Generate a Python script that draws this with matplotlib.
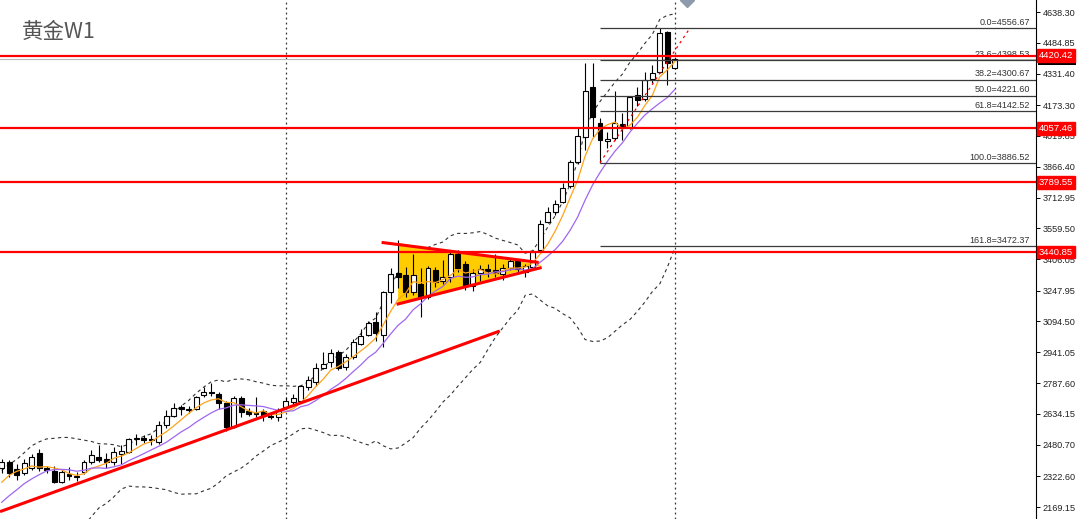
import matplotlib.pyplot as plt
import matplotlib.transforms as mtransforms
import numpy as np
import pandas as pd
from matplotlib.patches import Rectangle, Polygon

title = '黄金W1'

# weekly candles (left -> right)
opens = [2364, 2394, 2360, 2339, 2364, 2440, 2364, 2349, 2294, 2334,
         2324, 2344, 2394, 2418, 2409, 2394, 2433, 2443, 2508, 2513,
         2508, 2495, 2578, 2623, 2668, 2653, 2658, 2728, 2743, 2733,
         2688, 2568, 2713, 2648, 2638, 2648, 2623, 2618, 2668, 2693,
         2698, 2768, 2793, 2863, 2894, 2944, 2868, 2918, 2983, 3028,
         3093, 3028, 3243, 3338, 3328, 3243, 3283, 3218, 3353, 3298,
         3318, 3433, 3383, 3273, 3338, 3358, 3353, 3333, 3363, 3398,
         3343, 3368, 3450, 3593, 3643, 3693, 3768, 3888, 4015, 4264,
         4084, 3995, 4010, 4080, 4065, 4224, 4204, 4304, 4339, 4538,
         4360]
highs = [2409, 2404, 2384, 2409, 2433, 2456, 2374, 2374, 2359, 2370,
         2344, 2404, 2453, 2478, 2438, 2468, 2478, 2515, 2531, 2528,
         2526, 2600, 2653, 2688, 2678, 2673, 2723, 2768, 2788, 2743,
         2698, 2723, 2723, 2663, 2718, 2658, 2638, 2663, 2718, 2733,
         2778, 2823, 2888, 2944, 2958, 2954, 2934, 3008, 3058, 3098,
         3143, 3248, 3363, 3500, 3368, 3430, 3363, 3373, 3368, 3403,
         3443, 3453, 3398, 3358, 3378, 3383, 3433, 3383, 3413, 3403,
         3383, 3453, 3603, 3668, 3703, 3783, 3898, 4058, 4384, 4384,
         4109, 4040, 4244, 4134, 4220, 4264, 4339, 4374, 4556.67, 4543,
         4410]
lows = [2339, 2320, 2304, 2329, 2354, 2350, 2339, 2289, 2289, 2304,
        2299, 2334, 2384, 2394, 2364, 2379, 2384, 2438, 2478, 2490,
        2478, 2485, 2563, 2618, 2628, 2638, 2653, 2718, 2723, 2658,
        2548, 2563, 2618, 2623, 2618, 2598, 2608, 2598, 2658, 2683,
        2693, 2753, 2773, 2858, 2868, 2853, 2853, 2908, 2978, 3023,
        2998, 2968, 3188, 3260, 3218, 3228, 3118, 3208, 3268, 3283,
        3293, 3343, 3253, 3248, 3298, 3318, 3318, 3303, 3353, 3333,
        3318, 3358, 3440, 3588, 3628, 3688, 3760, 3880, 3950, 4015,
        3886.52, 3960, 4000, 4000, 4055, 4170, 4195, 4284, 4335, 4274,
        4352]
closes = [2394, 2339, 2329, 2389, 2418, 2364, 2354, 2294, 2344, 2324,
          2319, 2394, 2428, 2404, 2394, 2443, 2448, 2508, 2515, 2503,
          2501, 2578, 2623, 2663, 2658, 2658, 2718, 2743, 2738, 2688,
          2568, 2713, 2643, 2633, 2633, 2623, 2618, 2648, 2698, 2713,
          2773, 2803, 2863, 2883, 2939, 2863, 2918, 2993, 3023, 3088,
          3038, 3243, 3333, 3318, 3243, 3328, 3218, 3363, 3293, 3318,
          3433, 3363, 3273, 3338, 3358, 3348, 3338, 3363, 3398, 3358,
          3373, 3443, 3583, 3643, 3683, 3760, 3888, 4018, 4244, 4114,
          4000, 4005, 4084, 4065, 4214, 4199, 4299, 4334, 4533, 4384,
          4402]

# closes before the first visible bar (only to start the averages)
warmup_closes = [2004, 2019, 2053, 2062, 2045, 2049, 2029, 2018, 2039, 2024,
                 2013, 2035, 2083, 2179, 2155, 2165, 2230, 2329, 2344]

price_ticks = [4638.30, 4484.85, 4331.40, 4173.30, 4019.85, 3866.40, 3712.95,
               3559.50, 3406.05, 3247.95, 3094.50, 2941.05, 2787.60, 2634.15,
               2480.70, 2322.60, 2169.15]
red_levels = [4420.42, 4057.46, 3789.55, 3440.85]
bid_price = 4402.0

fib_names = ['0.0', '23.6', '38.2', '50.0', '61.8', '100.0', '161.8']
fib_values = [4556.67, 4398.53, 4300.67, 4221.60, 4142.52, 3886.52, 3472.37]
fib_anchor_x = [80, 92]
fib_anchor_y = [3886.52, 4556.67]

trend_x = [-0.23, 66.6]
trend_y = [2146, 3047]
tri_x = [53, 53, 72.3]
tri_y = [3486, 3182, 3376]
tri_top_x = [51, 71.6]
tri_top_y = [3488, 3390]
tri_bot_x = [53, 72]
tri_bot_y = [3182, 3362]
separators = [38, 90]

ser = pd.Series(warmup_closes + closes, dtype=float)
n0 = len(warmup_closes)
ma_fast = ser.rolling(5).mean().iloc[n0:].values
ma_slow = ser.rolling(10).mean().iloc[n0:].values
mid = ser.rolling(20).mean()
sd = ser.rolling(20).std(ddof=0)
bb_up = (mid + 2 * sd).iloc[n0:].values
bb_dn = (mid - 2 * sd).iloc[n0:].values
idx = np.arange(len(closes))

fig = plt.figure(figsize=(10.8, 5.19), dpi=100)
ax = fig.add_axes([0, 0, 1036 / 1080, 1])
ax.set_xlim(-0.23, 138.3)
ax.set_ylim(2109.3, 4698.2)

for s in ['top', 'left', 'bottom']:
    ax.spines[s].set_visible(False)
ax.spines['right'].set_linewidth(0.8)
ax.set_xticks([])
ax.yaxis.tick_right()
ax.set_yticks(price_ticks)
ax.set_yticklabels([f'{v:.2f}' for v in price_ticks], family='Liberation Sans')
ax.tick_params(axis='y', direction='out', length=3, width=0.7, pad=2,
               labelsize=6.6, labelcolor='#222222')

# period separators
for s in separators:
    ax.axvline(s, color='#333333', lw=0.9, ls=(0, (1.5, 2.5)), zorder=1)

# bid line
ax.axhline(bid_price, color='#b8b8b8', lw=0.8, zorder=1)

# bollinger bands
ax.plot(idx, bb_up, color='#333333', lw=0.8, ls=(0, (3, 3)), zorder=2)
ax.plot(idx, bb_dn, color='#333333', lw=0.8, ls=(0, (3, 3)), zorder=2)

# triangle
ax.add_patch(Polygon(list(zip(tri_x, tri_y)), closed=True, fc='#ffcc00',
                     ec='none', zorder=2))
ax.plot(tri_top_x, tri_top_y, color='red', lw=2.2, zorder=6)
ax.plot(tri_bot_x, tri_bot_y, color='red', lw=2.2, zorder=6)

# trend line
ax.plot(trend_x, trend_y, color='red', lw=2.2, zorder=6, solid_capstyle='butt')

# candles
w = 0.66
for i in idx:
    o, h, l, c = opens[i], highs[i], lows[i], closes[i]
    ax.vlines(i, l, h, color='black', lw=0.8, zorder=3)
    lo, hi = min(o, c), max(o, c)
    if hi - lo < 5:
        hi = lo + 5
    fc = 'white' if c >= o else 'black'
    ax.add_patch(Rectangle((i - w / 2, lo), w, hi - lo, fc=fc, ec='black',
                           lw=0.8, zorder=4))

# moving averages
ax.plot(idx, ma_fast, color='#ffa31a', lw=0.9, zorder=5)
ax.plot(idx, ma_slow, color='#a066f0', lw=0.9, zorder=5)

# fibonacci
ax.plot(fib_anchor_x, fib_anchor_y, color='red', lw=0.9, ls=(0, (2, 3)), zorder=6)
trans = mtransforms.blended_transform_factory(ax.transAxes, ax.transData)
for name, v in zip(fib_names, fib_values):
    ax.hlines(v, fib_anchor_x[0], 138.3, color='#3a3a3a', lw=0.9, zorder=5)
    ax.text(1030 / 1036, v + 6, f'{name}={v:.2f}', transform=trans, ha='right',
            va='bottom', fontsize=6.5, family='Liberation Sans', color='#333333',
            zorder=5)

# horizontal levels
for v in red_levels:
    ax.axhline(v, color='red', lw=1.6, zorder=7)

# bid price tag, mostly hidden under the red tag
ax.add_patch(Rectangle((1.0015, bid_price - 30), 0.037, 50, transform=trans,
                       fc='black', ec='none', clip_on=False, zorder=8))
for v in red_levels:
    ax.annotate(f'{v:.2f}', xy=(1, v), xycoords=trans, xytext=(2.0, 0),
                textcoords='offset points', ha='left', va='center',
                fontsize=6.8, family='Liberation Sans', color='white',
                bbox=dict(boxstyle='square,pad=0.2', fc='red', ec='red'),
                annotation_clip=False, zorder=9)

# chart shift marker
ax.plot([91.6], [4698.2], marker='D', ms=7, color='#8c9aab', clip_on=False,
        zorder=9)

ax.text(22 / 1036, 1 - 32 / 519, title, transform=ax.transAxes, ha='left',
        va='center', fontsize=15.5, color='#555555',
        family=['Noto Sans CJK SC', 'DejaVu Sans'])

fig.savefig('out.png', dpi=100)
